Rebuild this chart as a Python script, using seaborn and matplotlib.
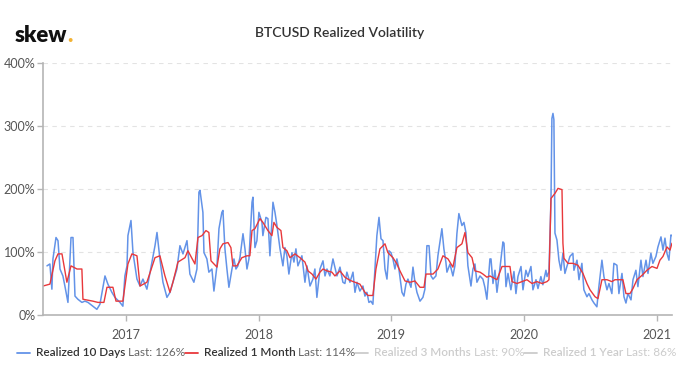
import matplotlib
matplotlib.use("Agg")
import matplotlib.pyplot as plt
import matplotlib.dates as mdates
from matplotlib.lines import Line2D
from matplotlib.ticker import FuncFormatter
import numpy as np
import pandas as pd
import seaborn as sns

# time axis stored as decimal years, values in %
vol_10d_t = [
    2016.405, 2016.427, 2016.442, 2016.450, 2016.473, 2016.488, 2016.503, 2016.525,
    2016.540, 2016.563, 2016.586, 2016.601, 2016.616, 2016.638, 2016.668, 2016.691,
    2016.714, 2016.751, 2016.781, 2016.804, 2016.842, 2016.864, 2016.894, 2016.917,
    2016.955, 2016.977, 2016.992, 2017.008, 2017.015, 2017.038, 2017.053, 2017.083,
    2017.106, 2017.128, 2017.158, 2017.196, 2017.219, 2017.234, 2017.256, 2017.279,
    2017.309, 2017.332, 2017.354, 2017.384, 2017.407, 2017.430, 2017.460, 2017.482,
    2017.512, 2017.535, 2017.550, 2017.558, 2017.580, 2017.588, 2017.610, 2017.625,
    2017.648, 2017.663, 2017.686, 2017.701, 2017.723, 2017.731, 2017.746, 2017.761,
    2017.776, 2017.799, 2017.814, 2017.829, 2017.844, 2017.859, 2017.882, 2017.897,
    2017.912, 2017.927, 2017.950, 2017.957, 2017.972, 2017.987, 2018.002, 2018.025,
    2018.032, 2018.055, 2018.070, 2018.085, 2018.108, 2018.123, 2018.138, 2018.161,
    2018.183, 2018.198, 2018.213, 2018.228, 2018.251, 2018.266, 2018.281, 2018.296,
    2018.326, 2018.349, 2018.364, 2018.387, 2018.409, 2018.424, 2018.439, 2018.462,
    2018.485, 2018.500, 2018.515, 2018.537, 2018.560, 2018.590, 2018.613, 2018.635,
    2018.650, 2018.665, 2018.688, 2018.711, 2018.726, 2018.741, 2018.763, 2018.786,
    2018.801, 2018.816, 2018.831, 2018.846, 2018.861, 2018.876, 2018.891, 2018.907,
    2018.922, 2018.937, 2018.952, 2018.967, 2018.982, 2018.997, 2019.012, 2019.027,
    2019.042, 2019.057, 2019.080, 2019.095, 2019.110, 2019.125, 2019.148, 2019.163,
    2019.178, 2019.193, 2019.216, 2019.238, 2019.253, 2019.268, 2019.284, 2019.299,
    2019.314, 2019.336, 2019.351, 2019.381, 2019.396, 2019.411, 2019.419, 2019.442,
    2019.464, 2019.479, 2019.494, 2019.509, 2019.532, 2019.547, 2019.562, 2019.577,
    2019.600, 2019.615, 2019.630, 2019.645, 2019.668, 2019.690, 2019.705, 2019.720,
    2019.743, 2019.751, 2019.766, 2019.781, 2019.796, 2019.811, 2019.841, 2019.849,
    2019.864, 2019.879, 2019.901, 2019.924, 2019.939, 2019.954, 2019.977, 2019.992,
    2020.014, 2020.029, 2020.052, 2020.067, 2020.090, 2020.105, 2020.127, 2020.142,
    2020.165, 2020.173, 2020.188, 2020.203, 2020.210, 2020.218, 2020.225, 2020.233,
    2020.248, 2020.263, 2020.278, 2020.293, 2020.308, 2020.323, 2020.346, 2020.368,
    2020.376, 2020.399, 2020.414, 2020.436, 2020.451, 2020.474, 2020.489, 2020.512,
    2020.527, 2020.549, 2020.564, 2020.587, 2020.602, 2020.625, 2020.640, 2020.662,
    2020.677, 2020.700, 2020.715, 2020.738, 2020.753, 2020.768, 2020.783, 2020.806,
    2020.821, 2020.843, 2020.858, 2020.881, 2020.896, 2020.919, 2020.934, 2020.956,
    2020.971, 2020.994, 2021.009, 2021.032, 2021.047, 2021.062, 2021.077, 2021.092,
    2021.107, 2021.115,
]
vol_10d = [
    78, 81, 41, 89, 123, 118, 73, 62,
    46, 20, 123, 123, 30, 25, 20, 22,
    20, 14, 9, 17, 62, 49, 36, 28,
    20, 14, 62, 78, 126, 150, 99, 57,
    46, 57, 41, 84, 110, 131, 89, 52,
    28, 36, 52, 73, 110, 97, 118, 65,
    52, 73, 195, 198, 163, 99, 89, 68,
    73, 38, 78, 137, 163, 166, 105, 73,
    44, 73, 89, 73, 78, 91, 129, 105,
    73, 89, 179, 187, 107, 118, 163, 147,
    126, 155, 153, 94, 179, 163, 142, 105,
    78, 107, 94, 65, 99, 84, 105, 78,
    94, 52, 78, 46, 57, 73, 28, 73,
    86, 62, 73, 62, 89, 62, 76, 52,
    50, 68, 52, 68, 36, 52, 38, 46,
    30, 36, 20, 22, 17, 73, 126, 155,
    121, 118, 73, 57, 102, 99, 89, 73,
    89, 73, 36, 30, 49, 57, 44, 76,
    52, 36, 22, 28, 41, 110, 110, 62,
    57, 62, 94, 137, 105, 84, 68, 81,
    62, 78, 129, 161, 142, 147, 131, 78,
    46, 73, 81, 52, 62, 57, 44, 25,
    89, 89, 50, 71, 36, 61, 116, 114,
    45, 66, 40, 69, 34, 61, 77, 40,
    71, 61, 77, 40, 56, 42, 61, 48,
    71, 61, 69, 183, 312, 320, 310, 130,
    119, 87, 71, 98, 66, 77, 93, 98,
    71, 87, 56, 82, 40, 29, 34, 24,
    19, 13, 45, 87, 61, 40, 50, 34,
    82, 79, 34, 66, 29, 19, 34, 24,
    56, 71, 45, 87, 61, 87, 66, 98,
    82, 93, 108, 124, 103, 122, 98, 87,
    127, 126,
]

vol_1m_t = [
    2016.375, 2016.427, 2016.465, 2016.488, 2016.518, 2016.555, 2016.586, 2016.631,
    2016.668, 2016.676, 2016.751, 2016.789, 2016.834, 2016.857, 2016.902, 2016.925,
    2016.977, 2017.015, 2017.045, 2017.083, 2017.106, 2017.158, 2017.219, 2017.256,
    2017.294, 2017.332, 2017.354, 2017.392, 2017.445, 2017.467, 2017.497, 2017.520,
    2017.543, 2017.573, 2017.603, 2017.625, 2017.641, 2017.663, 2017.686, 2017.708,
    2017.731, 2017.769, 2017.791, 2017.806, 2017.836, 2017.874, 2017.912, 2017.934,
    2017.950, 2017.972, 2018.010, 2018.032, 2018.070, 2018.100, 2018.115, 2018.138,
    2018.168, 2018.183, 2018.213, 2018.236, 2018.274, 2018.311, 2018.349, 2018.372,
    2018.402, 2018.432, 2018.462, 2018.485, 2018.515, 2018.552, 2018.575, 2018.613,
    2018.650, 2018.688, 2018.726, 2018.763, 2018.801, 2018.824, 2018.861, 2018.884,
    2018.914, 2018.952, 2018.974, 2019.012, 2019.042, 2019.065, 2019.103, 2019.140,
    2019.178, 2019.216, 2019.246, 2019.261, 2019.314, 2019.351, 2019.389, 2019.427,
    2019.464, 2019.494, 2019.532, 2019.555, 2019.577, 2019.608, 2019.630, 2019.668,
    2019.690, 2019.720, 2019.743, 2019.796, 2019.834, 2019.894, 2019.909, 2019.947,
    2019.985, 2020.022, 2020.060, 2020.097, 2020.135, 2020.173, 2020.188, 2020.203,
    2020.233, 2020.256, 2020.286, 2020.293, 2020.301, 2020.331, 2020.368, 2020.406,
    2020.444, 2020.474, 2020.497, 2020.535, 2020.557, 2020.587, 2020.625, 2020.662,
    2020.685, 2020.723, 2020.745, 2020.768, 2020.798, 2020.821, 2020.851, 2020.889,
    2020.926, 2020.964, 2021.002, 2021.024, 2021.047, 2021.077, 2021.100, 2021.115,
]
vol_1m = [
    46, 49, 86, 97, 97, 52, 78, 73,
    73, 25, 22, 20, 20, 44, 44, 22,
    22, 81, 97, 94, 46, 52, 91, 94,
    62, 36, 52, 84, 91, 102, 90, 81,
    123, 126, 134, 131, 86, 81, 76, 105,
    113, 115, 107, 78, 78, 91, 94, 94,
    134, 137, 153, 147, 134, 126, 147, 139,
    134, 107, 102, 91, 97, 91, 84, 70,
    65, 57, 68, 73, 70, 68, 62, 70,
    60, 55, 52, 49, 36, 31, 31, 73,
    105, 113, 99, 91, 81, 70, 54, 52,
    54, 44, 44, 65, 65, 73, 94, 89,
    76, 107, 113, 131, 99, 91, 70, 68,
    65, 60, 62, 56, 77, 77, 53, 50,
    53, 56, 50, 53, 50, 53, 56, 185,
    193, 201, 199, 114, 90, 82, 82, 79,
    66, 50, 40, 29, 26, 56, 56, 53,
    56, 56, 56, 34, 34, 42, 56, 63,
    71, 77, 74, 87, 93, 108, 103, 114,
]

legend_names = ["Realized 10 Days", "Realized 1 Month", "Realized 3 Months", "Realized 1 Year"]
legend_last = ["Last: 126%", "Last: 114%", "Last: 90%", "Last: 86%"]
y_ticks = [0, 100, 200, 300, 400]

BLUE = "#6393e8"
RED = "#e8383b"


def to_dates(years):
    years = np.asarray(years, dtype=float)
    return pd.Timestamp("2017-01-01") + pd.to_timedelta((years - 2017) * 365.25, unit="D")


sns.set_theme(style="white")
plt.rcParams["font.family"] = ["Lato", "DejaVu Sans"]

df_10d = pd.DataFrame({"date": to_dates(vol_10d_t), "vol": vol_10d})
df_1m = pd.DataFrame({"date": to_dates(vol_1m_t), "vol": vol_1m})

fig = plt.figure(figsize=(6.8, 3.8), dpi=100)
ax = fig.add_axes([43 / 680, 1 - 315 / 380, 629 / 680, 252 / 380])

sns.lineplot(data=df_10d, x="date", y="vol", ax=ax, color=BLUE, linewidth=1.1)
sns.lineplot(data=df_1m, x="date", y="vol", ax=ax, color=RED, linewidth=1.0)

ax.set_xlim(to_dates([2016.375])[0], to_dates([2021.115])[0])
ax.set_ylim(0, 400)
ax.set_yticks(y_ticks)
ax.yaxis.set_major_formatter(FuncFormatter(lambda v, pos: f"{int(v)}%"))
ax.xaxis.set_major_locator(mdates.YearLocator())
ax.xaxis.set_major_formatter(mdates.DateFormatter("%Y"))
ax.set_xlabel("")
ax.set_ylabel("")

for v in y_ticks[1:]:
    ax.axhline(v, color="#e3e3e3", linewidth=0.8, linestyle=(0, (4, 4)), zorder=0)

for side in ["top", "right"]:
    ax.spines[side].set_visible(False)
for side in ["left", "bottom"]:
    ax.spines[side].set_color("#b5b5b5")
    ax.spines[side].set_linewidth(1.2)
ax.tick_params(axis="both", which="major", length=4, width=1, color="#b5b5b5",
               labelsize=9, labelcolor="#555555", pad=1.5, left=True, bottom=True)
ax.tick_params(axis="x", pad=6)

# header
fig.text(0.5, 1 - 33 / 380, "BTCUSD Realized Volatility", ha="center", va="center",
         fontsize=10, fontweight="semibold", color="#333333")
logo = fig.text(15 / 680, 1 - 35 / 380, "skew", ha="left", va="center",
                fontsize=16, fontweight="heavy", color="#111111")
fig.canvas.draw()
renderer = fig.canvas.get_renderer()
bb = logo.get_window_extent(renderer)
fig.text(bb.x1 / fig.bbox.width, 1 - 35 / 380, ".", ha="left", va="center",
         fontsize=16, fontweight="heavy", color="#f2b233")

# custom legend row at the bottom
colors = [BLUE, RED, "#cccccc", "#cccccc"]
name_cols = ["#333333", "#333333", "#cccccc", "#cccccc"]
last_cols = ["#666666", "#666666", "#cccccc", "#cccccc"]
y_leg = 1 - 353 / 380
x = 17.0
W = fig.bbox.width
for name, last, c, nc, lc in zip(legend_names, legend_last, colors, name_cols, last_cols):
    fig.add_artist(Line2D([x / W, (x + 13) / W], [y_leg, y_leg], color=c, linewidth=1.3,
                          transform=fig.transFigure))
    x += 19
    t1 = fig.text(x / W, y_leg, name, ha="left", va="center", fontsize=8.45,
                  fontweight="semibold", color=nc)
    x = t1.get_window_extent(renderer).x1 + 2.5
    t2 = fig.text(x / W, y_leg, last, ha="left", va="center", fontsize=8.45, color=lc)
    x = t2.get_window_extent(renderer).x1

fig.savefig("out.png", dpi=100)
